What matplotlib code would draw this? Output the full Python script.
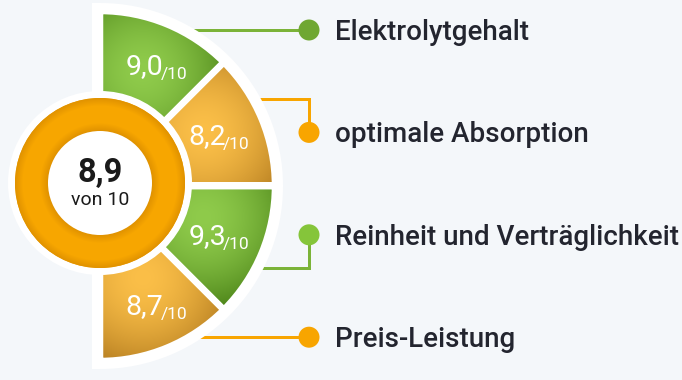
import numpy as np
import matplotlib
matplotlib.use("Agg")
import matplotlib.pyplot as plt
from matplotlib.patches import Wedge, Circle

categories = ["Elektrolytgehalt", "optimale Absorption",
              "Reinheit und Verträglichkeit", "Preis-Leistung"]
scores = [9.0, 8.2, 9.3, 8.7]
overall = 8.9
max_score = 10
kinds = ["green", "orange", "green", "orange"]

PAL = {
    "green": {"light": np.array([0x8F, 0xCB, 0x4B]) / 255, "dark": np.array([0x4E, 0x86, 0x1A]) / 255,
              "line": "#7BB338", "dot": ["#6FA732", "#85C53A"]},
    "orange": {"light": np.array([0xFB, 0xBF, 0x48]) / 255, "dark": np.array([0xB8, 0x80, 0x22]) / 255,
               "line": "#F8A500", "dot": ["#F8A500", "#F8A500"]},
}

W, H = 682, 380
PX = 0.72  # points per pixel at dpi 100
fig = plt.figure(figsize=(W / 100, H / 100), dpi=100)
fig.patch.set_facecolor("#F4F7FA")
ax = fig.add_axes([0, 0, 1, 1])
ax.set_xlim(0, W)
ax.set_ylim(H, 0)
ax.axis("off")
ax.set_facecolor("#F4F7FA")

FONT = ["Roboto", "DejaVu Sans"]
cx, cy = 100, 186       # fan centre
R = 175                 # fan radius
rcx, rcy = 100, 183     # ring centre
r_white, r_out, r_in = 92, 85, 52

# connectors + legend
leg_x = 309
leg_y = [30 + i * 102.4 for i in range(len(categories))]
n = len(categories)
for i, k in enumerate(kinds):
    col = PAL[k]["line"]
    y = leg_y[i]
    if i == 0 or i == n - 1:
        xs, ys = [150, leg_x], [y, y]
    elif i == 1:
        xs, ys = [240, leg_x, leg_x], [y - 33, y - 33, y]
    else:
        xs, ys = [240, leg_x, leg_x], [y + 33, y + 33, y]
    ax.plot(xs, ys, color=col, lw=3 * PX, zorder=1, solid_capstyle="butt",
            solid_joinstyle="miter")
    dcol = PAL[k]["dot"][0 if i < 2 else 1]
    ax.add_patch(Circle((leg_x, y), 10.5, color=dcol, zorder=3, lw=0))
    ax.text(335, y + 10, categories[i], fontsize=20, family=FONT, fontweight="medium",
            color="#23252F", va="baseline", ha="left", zorder=5)

# white fan background
ax.add_patch(Wedge((cx, cy), R, -90, 90, facecolor="white", edgecolor="white",
                   lw=16 * PX, joinstyle="miter", zorder=2))

# pixel grid for shading
X, Y = np.meshgrid(np.arange(W) + 0.5, np.arange(H) + 0.5)

step = 180 / n
for i, (s, k) in enumerate(zip(scores, kinds)):
    t1 = -90 + i * step
    t2 = t1 + step
    tm = np.radians((t1 + t2) / 2)
    wd = Wedge((cx, cy), R, t1, t2, facecolor=PAL[k]["light"], lw=0, zorder=3)
    ax.add_patch(wd)
    gx = cx + 112 * np.cos(tm)
    gy = cy + 112 * np.sin(tm) - 12
    t = np.clip(np.hypot(X - gx, Y - gy) / 92.0, 0, 1) ** 1.7
    img = PAL[k]["light"][None, None, :] * (1 - t[..., None]) + PAL[k]["dark"][None, None, :] * t[..., None]
    im = ax.imshow(img, extent=(0, W, H, 0), zorder=4, interpolation="bilinear")
    im.set_clip_path(wd)
    # separators
    ax.add_patch(Wedge((cx, cy), R, t1, t2, fill=False, edgecolor="white",
                       lw=6.5 * PX, zorder=5))
    lx = cx + 116 * np.cos(tm) + 19
    ly = cy + 130 * np.sin(tm) + 8
    ax.text(lx, ly, f"{s:.1f}".replace(".", ","), fontsize=20.5, family=FONT,
            color="white", ha="right", va="baseline", zorder=9)
    ax.text(lx - 3, ly + 5, f"/{max_score}", fontsize=12.5, family=FONT,
            color="white", ha="left", va="baseline", zorder=9)

# wider horizontal gap between the upper and lower halves
ax.plot([cx, cx + R + 2], [cy - 2, cy - 2], color="white", lw=5 * PX, zorder=5.5,
        solid_capstyle="butt")

# central score ring
ax.add_patch(Circle((rcx, rcy), r_white, color="white", zorder=6, lw=0))
ring_mask = Circle((rcx, rcy), r_out, color="#F6A400", zorder=7, lw=0)
ax.add_patch(ring_mask)
rd = np.hypot(X - rcx, Y - rcy)
g = np.minimum(r_out - rd, rd - r_in)
g = np.clip(g / 8.0, 0, 1)
ring_light = np.array([0xF7, 0xA6, 0x00]) / 255
ring_dark = np.array([0xE0, 0x92, 0x00]) / 255
rimg = ring_dark[None, None, :] + (ring_light - ring_dark)[None, None, :] * g[..., None]
rim = ax.imshow(rimg, extent=(0, W, H, 0), zorder=7.5, interpolation="bilinear")
rim.set_clip_path(ring_mask)
ax.add_patch(Circle((rcx, rcy), r_in, color="white", zorder=8, lw=0))
ax.text(rcx, rcy - 1, f"{overall:.1f}".replace(".", ","), fontsize=23.5, family=FONT,
        fontweight="bold", color="#1A1A1A", ha="center", va="baseline", zorder=9)
ax.text(rcx, rcy + 22, f"von {max_score}", fontsize=14, family=FONT,
        color="#1A1A1A", ha="center", va="baseline", zorder=9)

ax.set_xlim(0, W)
ax.set_ylim(H, 0)
fig.savefig("out.png", dpi=100, facecolor=fig.get_facecolor())
